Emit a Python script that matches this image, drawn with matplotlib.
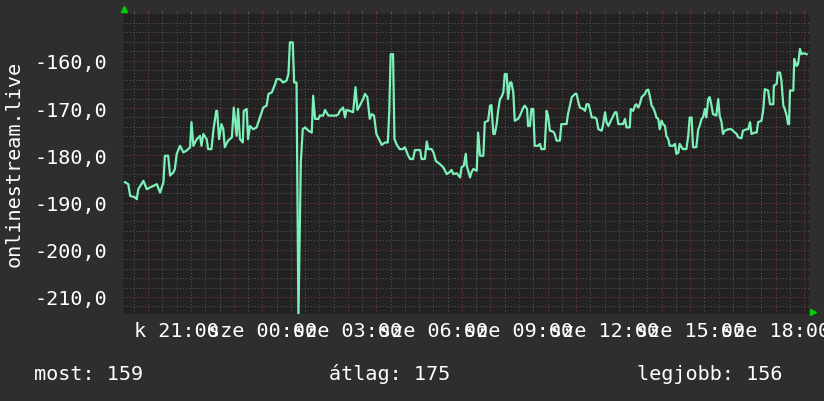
import matplotlib
matplotlib.use('Agg')
import matplotlib.pyplot as plt
from matplotlib.lines import Line2D
from matplotlib.ticker import MultipleLocator, FuncFormatter
import numpy as np

# time window (hours since Tuesday 00:00)
start_hour = 19 + 8 / 60
end_hour = 43 + 10 / 60

# samples: minutes after window start, value
minutes = [
    3, 10, 14, 24, 28, 31, 42, 49, 56, 63, 70, 77, 84, 87, 94, 98, 105, 108, 112,
    119, 126, 133, 140, 143, 147, 154, 161, 164, 168, 175, 178, 185, 189, 195, 197,
    201, 206, 210, 213, 220, 228, 232, 238, 241, 245, 251, 253, 259, 262, 266, 273,
    280, 287, 294, 301, 305, 312, 319, 322, 329, 336, 343, 347, 350, 356, 359, 364,
    368, 373, 377, 382, 389, 396, 399, 403, 410, 413, 420, 424, 431, 448, 452, 455,
    462, 466, 469, 476, 483, 488, 492, 497, 504, 508, 513, 518, 522, 527, 532, 539,
    543, 550, 556, 559, 562, 567, 570, 575, 581, 588, 592, 599, 603, 609, 613, 624,
    627, 634, 638, 641, 648, 652, 657, 666,
    673, 680, 687, 690, 694, 701, 704, 708, 711, 716, 720, 722, 725, 729, 732, 736,
    743, 746, 750, 757, 760, 767, 771, 774, 778, 781, 785, 788, 792, 795, 799, 802,
    806, 809, 813, 816, 820, 823, 830, 834, 841, 844, 849, 851, 855, 858, 862, 865,
    872, 876, 879, 886, 890, 893, 897, 904, 907, 911, 918, 921, 932, 935, 943, 950,
    953, 957, 960, 967, 971, 974, 978, 981, 985, 992, 995, 999, 1006, 1009, 1013,
    1016, 1020, 1027, 1034, 1037, 1041, 1051, 1055, 1058, 1065,
    1067, 1072, 1076, 1079, 1083, 1086, 1090, 1097, 1100, 1104, 1107, 1111, 1114,
    1118, 1121, 1125, 1128, 1132, 1135, 1139, 1142, 1146, 1149, 1156, 1160, 1163,
    1167, 1170, 1174, 1177, 1184, 1188, 1191, 1195, 1198, 1205, 1209, 1212, 1216,
    1219, 1223, 1226, 1230, 1233, 1237, 1240, 1247, 1251, 1254, 1258, 1261, 1265,
    1272, 1279, 1286, 1290, 1293, 1300, 1303, 1311, 1314, 1318, 1321, 1328, 1332,
    1335, 1342, 1346, 1349, 1356, 1360, 1367, 1368, 1374, 1376, 1381, 1384, 1388,
    1391, 1395, 1398, 1400, 1402, 1409, 1411, 1416, 1419, 1423, 1426, 1430, 1437,
]
values = [
    -185.7, -186.1, -188.6, -188.9, -189.3, -187.2, -185.4, -187.2, -186.8, -186.5,
    -186.1, -187.9, -185.7, -180.1, -180.1, -184.3, -183.6, -182.9, -179.7,
    -178.0, -179.4, -179.0, -178.3, -173.0, -178.0, -176.6, -175.9, -178.0, -175.5,
    -176.6, -178.7, -178.7, -174.8, -170.6, -170.6,
    -176.6, -173.4, -174.5, -178.3, -176.9, -176.2, -169.9, -175.9, -170.2, -176.6,
    -177.3, -170.6, -170.2, -176.6, -173.8, -174.5,
    -174.1, -172.0, -169.9, -169.5, -167.0, -166.7, -164.9, -163.9, -163.9, -164.6,
    -164.2, -162.8, -156.1, -156.1, -164.6, -164.6,
    -214.5, -181.5, -174.5, -174.1, -174.8, -175.2, -167.4, -172.3, -172.3, -171.6,
    -171.6, -170.4, -171.6, -171.6, -171.3, -170.6,
    -169.9, -172.0, -170.4, -170.6, -170.9, -165.6, -170.4, -169.5, -168.1, -167.0,
    -167.7, -172.3, -171.3, -171.6, -175.5, -176.9,
    -177.8, -177.3, -177.3, -170.9, -158.6, -158.6, -176.6, -177.8, -178.7, -178.7,
    -178.3, -180.1, -180.8, -180.8, -178.9, -178.9,
    -180.8, -180.8, -177.1, -178.7, -178.7, -179.4, -181.2, -181.9,
    -182.6, -184.0, -183.5, -183.1, -184.0, -183.8, -184.2, -184.7, -182.6, -182.2,
    -179.7, -182.2, -183.3, -184.7, -183.6, -182.9,
    -183.3, -175.2, -180.1, -180.1, -173.0, -172.7, -169.5, -169.4, -175.5, -175.5,
    -173.4, -170.6, -168.1, -167.7, -166.7, -162.8,
    -162.8, -168.1, -164.6, -164.6, -166.7, -172.7, -172.3, -171.6, -169.9, -169.5,
    -170.2, -173.8, -173.8, -170.2, -170.2, -178.0,
    -178.0, -177.6, -178.7, -178.7, -170.6, -171.6, -174.8, -175.0, -175.5, -176.9,
    -176.9, -173.4, -173.4, -171.3, -167.7, -167.0,
    -167.0, -168.8, -169.9, -170.2, -170.6, -169.2, -169.2, -170.2, -172.0, -172.0,
    -172.3, -174.5, -174.8, -173.4, -170.9,
    -173.0, -173.8, -172.3, -170.9, -170.9, -173.4, -173.4, -172.3, -174.1, -174.1,
    -170.2, -170.6, -169.5, -169.2, -169.9, -169.2, -167.7, -167.0, -166.3, -166.1,
    -167.4, -169.5, -169.9,
    -170.9, -172.0, -172.3, -174.5, -172.7, -173.4, -173.8, -175.9, -176.6, -178.0,
    -178.0, -177.6, -179.7,
    -179.5, -177.6, -178.3, -178.7, -178.7, -175.9, -172.0, -172.0, -178.3, -178.3,
    -174.5, -173.8, -172.3,
    -172.0, -170.2, -172.0, -168.1, -167.7, -169.5, -171.3, -171.6, -168.1, -171.6,
    -173.0, -175.5, -174.8,
    -174.5, -174.5, -175.2, -175.5, -176.2, -176.4, -174.8, -174.5, -174.5, -173.0,
    -175.5, -175.2, -175.2,
    -173.0, -172.7, -170.2, -166.0, -166.3, -169.2, -169.2, -165.3, -164.9, -162.5,
    -162.5, -164.2, -169.5,
    -170.2, -171.6, -173.4, -173.4, -166.3, -166.3, -159.6, -161.1, -160.7, -157.5,
    -158.6, -158.4, -158.6,
]

label_hours = [21, 24, 27, 30, 33, 36, 39, 42]
label_texts = ['k 21:00', 'sze 00:00', 'sze 03:00', 'sze 06:00',
               'sze 09:00', 'sze 12:00', 'sze 15:00', 'sze 18:00']
y_title = 'onlinestream.live'
summary = ['most: 159', 'átlag: 175', 'legjobb: 156']

mono = 'DejaVu Sans Mono'
fsize = 14.5
W, H = 824, 402

fig = plt.figure(figsize=(W / 100, H / 100), dpi=100, facecolor='#2e2e2e')
ax = fig.add_axes([123.5 / W, 1 - 315 / H, (809 - 123.5) / W, 300 / H])
ax.set_facecolor('#222222')
ax.set_axisbelow(True)

hours = start_hour + np.array(minutes) / 60
ax.plot(hours, values, color='#7cf0b8', lw=1.6)

ax.set_xlim(start_hour, end_hour)
ax.set_ylim(-213.6, -150.1)
for s in ax.spines.values():
    s.set_visible(False)

# rrd style grid
ax.xaxis.set_major_locator(MultipleLocator(1))
ax.xaxis.set_minor_locator(MultipleLocator(0.5))
ax.yaxis.set_major_locator(MultipleLocator(10))
ax.yaxis.set_minor_locator(MultipleLocator(2))
ax.grid(which='minor', color='#585858', ls=(0, (1, 2)), lw=0.75)
ax.grid(which='major', color='#803838', ls=(0, (1, 2)), lw=0.75)

lbl = dict(zip(label_hours, label_texts))
ax.xaxis.set_major_formatter(FuncFormatter(lambda h, p: lbl.get(int(round(h)), '')))
ax.yaxis.set_major_formatter(FuncFormatter(lambda v, p: f'{v:.1f}'.replace('.', ',')))
ax.tick_params(axis='both', which='both', length=0, labelcolor='white', labelsize=fsize)
ax.tick_params(axis='y', pad=12)
# little marks above the plot like rrdtool draws
ax.tick_params(axis='x', which='both', top=True, bottom=False, labelbottom=True,
               direction='out', length=2.5, width=0.75, pad=2.5)
ax.tick_params(axis='x', which='major', color='#803838')
ax.tick_params(axis='x', which='minor', color='#585858')
for t in ax.get_xticklabels() + ax.get_yticklabels():
    t.set_family(mono)

fig.text(14 / W, 1 - 164 / H, y_title, rotation=90, color='white', family=mono,
         size=fsize, ha='center', va='center')

for x, s in zip([34, 329, 637], summary):
    fig.text(x / W, 1 - 380 / H, s, color='white', family=mono, size=fsize,
             ha='left', va='baseline')

# axis arrows
fig.add_artist(Line2D([124 / W], [1 - 10 / H], marker='^', color='#00d000',
                      markersize=5, transform=fig.transFigure))
fig.add_artist(Line2D([813 / W], [1 - 313 / H], marker='>', color='#00d000',
                      markersize=5, transform=fig.transFigure))

fig.savefig('out.png', dpi=100, facecolor=fig.get_facecolor())
